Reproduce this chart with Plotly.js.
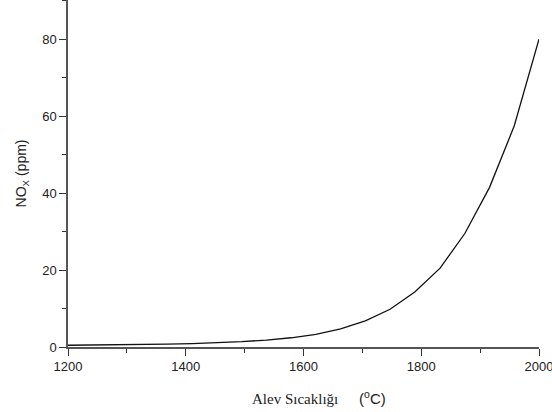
<!DOCTYPE html>
<html>
<head>
<meta charset="utf-8">
<script src="https://cdn.plot.ly/plotly-3.0.1.min.js"></script>
<style>html,body{margin:0;padding:0;background:#fff;}#chart{width:552px;height:412px;}</style>
</head>
<body>
<div id="chart"></div>
<script>
const temperature = [1200, 1242, 1284, 1326, 1368, 1411, 1453, 1495, 1537, 1579, 1621, 1663, 1705, 1747, 1789, 1832, 1874, 1916, 1958, 2000];
const noxPpm = [0.45, 0.5, 0.55, 0.65, 0.75, 0.9, 1.1, 1.4, 1.8, 2.4, 3.3, 4.7, 6.8, 9.8, 14.3, 20.5, 29.5, 41.5, 57.5, 80];
const xMajorTicks = [1200, 1400, 1600, 1800, 2000];
const xMinorTicks = [1300, 1500, 1700, 1900];
const yMajorTicks = [0, 20, 40, 60, 80];
const yMinorTicks = [10, 30, 50, 70, 90];
const xRange = [1200, 2000];
const yRange = [0, 90.2];
const NB = '\u00A0';

const trace = {
  x: temperature, y: noxPpm, type: 'scatter', mode: 'lines',
  line: {color: '#111', width: 1.3}, showlegend: false, hoverinfo: 'x+y'
};

const layout = {
  width: 552, height: 412,
  margin: {l: 68, r: 13, t: 0, b: 65},
  paper_bgcolor: '#fff', plot_bgcolor: '#fff',
  font: {family: 'Liberation Sans, Arial, sans-serif', size: 13, color: '#222'},
  xaxis: {
    range: xRange, tickmode: 'array', tickvals: xMajorTicks, ticktext: xMajorTicks.map(String),
    ticklabeloverflow: 'allow', showgrid: false, zeroline: false,
    showline: true, linecolor: '#555', linewidth: 1.5,
    ticks: 'outside', ticklen: 7, tickwidth: 1.3, tickcolor: '#333',
    minor: {ticks: 'outside', tickmode: 'array', tickvals: xMinorTicks, ticklen: 4, tickwidth: 1.3, tickcolor: '#333', showgrid: false},
    tickfont: {size: 13, color: '#222'}
  },
  yaxis: {
    range: yRange, tickmode: 'array', tickvals: yMajorTicks, ticktext: yMajorTicks.map(String),
    ticklabeloverflow: 'allow', showgrid: false, zeroline: false,
    showline: true, linecolor: '#555', linewidth: 1.5,
    ticks: 'outside', ticklen: 7, tickwidth: 1.3, tickcolor: '#333',
    minor: {ticks: 'outside', tickmode: 'array', tickvals: yMinorTicks, ticklen: 4, tickwidth: 1.3, tickcolor: '#333', showgrid: false},
    tickfont: {size: 13, color: '#222'},
    title: {text: 'NO<sub>X</sub> (ppm)', font: {size: 14, color: '#222'}, standoff: 12}
  },
  annotations: [{
    xref: 'paper', yref: 'paper', x: 0.532, y: 0, yshift: -50, xanchor: 'center', yanchor: 'middle',
    showarrow: false,
    text: '<span style="font-family:Liberation Serif, Times New Roman, serif">Alev Sıcaklığı</span>' + NB.repeat(5) + '(<sup>o</sup>C)',
    font: {size: 15, color: '#222'}
  }]
};

Plotly.newPlot('chart', [trace], layout, {displayModeBar: false});
</script>
</body>
</html>
